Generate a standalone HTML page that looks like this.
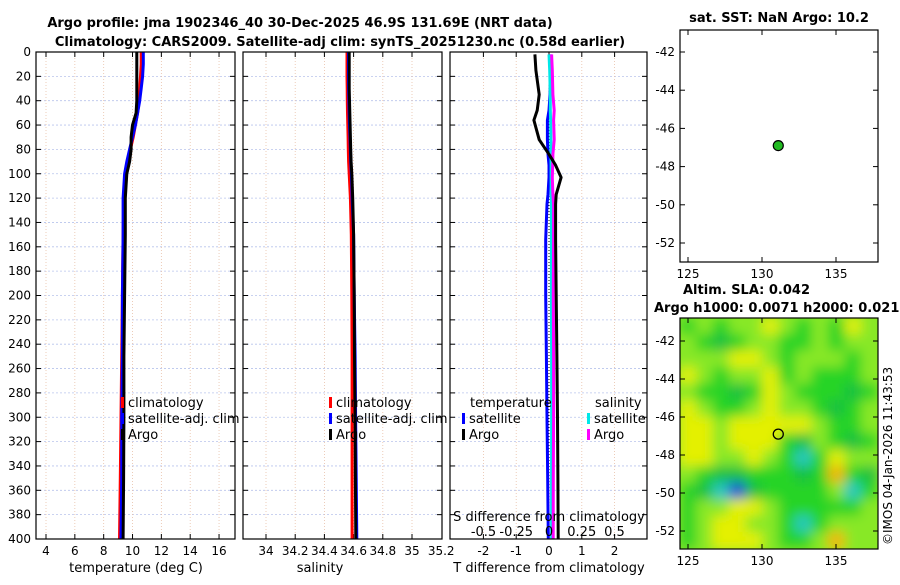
<!DOCTYPE html>
<html><head><meta charset="utf-8">
<style>
body{margin:0;background:#fff;width:900px;height:580px;overflow:hidden}
svg{font-family:"DejaVu Sans","Liberation Sans",sans-serif}
</style></head><body>
<svg id="s" width="900" height="580" viewBox="0 0 900 580" xmlns="http://www.w3.org/2000/svg">
<text x="300" y="27" font-size="13" font-weight="bold" text-anchor="middle">Argo profile: jma 1902346_40 30-Dec-2025 46.9S 131.69E (NRT data)</text>
<text x="340" y="46" font-size="13" font-weight="bold" text-anchor="middle">Climatology: CARS2009. Satellite-adj clim: synTS_20251230.nc (0.58d earlier)</text>
<text x="779" y="22" font-size="13" font-weight="bold" text-anchor="middle">sat. SST: NaN Argo: 10.2</text>
<text x="683" y="294" font-size="13" font-weight="bold">Altim. SLA: 0.042</text>
<text x="654" y="312" font-size="13" font-weight="bold">Argo h1000: 0.0071 h2000: 0.021</text>
<text x="0" y="0" font-size="12" transform="translate(892,545) rotate(-90)">©IMOS 04-Jan-2026 11:43:53</text>
<g id="g"></g>
</svg>
<script>
// ---- data ----
const depths = [0,10,20,30,40,50,60,70,80,90,100,120,150,200,250,300,350,400];
const tempClim = [10.6,10.6,10.55,10.5,10.45,10.35,10.2,10.05,9.85,9.65,9.5,9.4,9.35,9.3,9.25,9.2,9.15,9.1];
const tempSat  = [10.75,10.75,10.7,10.6,10.5,10.35,10.2,10.0,9.8,9.6,9.45,9.35,9.35,9.3,9.3,9.25,9.25,9.2];
const tempArgo = [10.3,10.3,10.3,10.3,10.3,10.25,10.0,9.9,9.9,9.8,9.6,9.5,9.5,9.45,9.4,9.4,9.38,9.35];
const salClim = [34.555,34.555,34.555,34.556,34.557,34.558,34.56,34.562,34.564,34.566,34.57,34.578,34.584,34.588,34.59,34.59,34.59,34.59];
const salSat  = [34.565,34.565,34.565,34.566,34.568,34.57,34.572,34.575,34.578,34.58,34.585,34.59,34.6,34.604,34.61,34.614,34.618,34.622];
const salArgo = [34.57,34.57,34.57,34.57,34.572,34.574,34.576,34.578,34.58,34.583,34.588,34.594,34.6,34.604,34.606,34.61,34.612,34.615];
const dT_depths = [2,15,35,48,56,72,84,93,103,117,125,154,200,250,300,350,400];
const dT_argo = [-0.43,-0.4,-0.3,-0.36,-0.46,-0.3,0.0,0.2,0.37,0.22,0.2,0.2,0.22,0.24,0.26,0.27,0.28];
const dT_sat = [0.05,0.05,0.03,0.0,-0.05,-0.05,-0.03,0.0,0.0,-0.03,-0.06,-0.1,-0.1,-0.08,-0.06,-0.04,-0.02];
const dS_sat = [0.0,0.005,0.01,0.01,0.012,0.014,0.015,0.016,0.016,0.017,0.018,0.018,0.018,0.02,0.02,0.02,0.02];
const dS_argo = [0.02,0.025,0.03,0.04,0.035,0.04,0.03,0.028,0.025,0.03,0.035,0.035,0.033,0.035,0.035,0.033,0.032];
const tempTicks = [4,6,8,10,12,14,16];
const salTicks = [34,34.2,34.4,34.6,34.8,35,35.2];
const dTticks = [-2,-1,0,1,2];
const dSticks = [-0.5,-0.25,0,0.25,0.5];
const depthTicks = [0,20,40,60,80,100,120,140,160,180,200,220,240,260,280,300,320,340,360,380,400];
const latTicks = [-42,-44,-46,-48,-50,-52];
const lonTicks = [125,130,135];
const argoLon = 131.1, argoLat = -46.9;
const slaGrid = [
[3,4,3,4,4,5,4,3,4,3,5,4],
[4,3,2,3,4,4,3,3,4,3,4,4],
[4,4,4,5,5,4,3,4,4,4,3,4],
[5,4,3,4,4,5,3,4,3,3,3,4],
[4,3,3,2,3,5,4,3,3,3,2,3],
[5,4,3,3,4,5,4,4,3,2,3,4],
[5,5,4,5,5,5,5,5,4,3,3,4],
[5,5,4,5,5,5,3,2,4,3,2,3],
[5,5,4,4,5,4,3,1,3,5,4,4],
[4,3,2,2,3,3,3,2,3,6,3,2],
[3,2,1,0,2,3,3,3,3,4,1,3],
[3,4,4,5,5,4,3,3,3,3,3,4],
[3,4,5,5,4,4,3,1,3,4,4,4],
[3,4,5,5,5,4,3,3,4,6,4,4]];
const slaColors = ['#1848d8','#28c8c0','#18c040','#28d428','#88e828','#e4f000','#f4b400'];

// ---- helpers ----
const NS='http://www.w3.org/2000/svg';
const G=document.getElementById('g');
function mk(tag,attrs,parent){const e=document.createElementNS(NS,tag);for(const k in attrs)e.setAttribute(k,attrs[k]);(parent||G).appendChild(e);return e;}
const PT=52, PB=539;
const yD = d => PT + d*(PB-PT)/400;
function panel(name,x0,x1,xs,ticks,fmt,yLabels){
  mk('rect',{x:x0,y:PT,width:x1-x0,height:PB-PT,fill:'#fff'});
  depthTicks.forEach(d=>{
    const l=mk('line',{x1:x0,x2:x1,y1:yD(d),y2:yD(d),stroke:'#b8c4ec','stroke-width':0.8,'stroke-dasharray':'2,2'});
    
    
    mk('line',{x1:x0,x2:x0+5,y1:yD(d),y2:yD(d),stroke:'#000'});
    mk('line',{x1:x1,x2:x1-5,y1:yD(d),y2:yD(d),stroke:'#000'});
    if(yLabels){const t=mk('text',{x:x0-5,y:yD(d)+4,'font-size':12,'text-anchor':'end'});t.textContent=d;
      }
  });
  ticks.forEach(v=>{
    const x=xs(v);
    if(x>x0+1&&x<x1-1){
      const l=mk('line',{x1:x,x2:x,y1:PT,y2:PB,stroke:'#e8c0a8','stroke-width':0.8,'stroke-dasharray':'1,2'});
      
      mk('line',{x1:x,x2:x,y1:PB,y2:PB-5,stroke:'#000'});mk('line',{x1:x,x2:x,y1:PT,y2:PT+5,stroke:'#000'});}
    const t=mk('text',{x:x,y:555,'font-size':12,'text-anchor':'middle'});t.textContent=fmt(v);
    
  });
}
function frame(name,x0,x1){const r=mk('rect',{x:x0,y:PT,width:x1-x0,height:PB-PT,fill:'none',stroke:'#000','stroke-width':1.2});
  }
function line(name,xs,vals,ds,color,w){
  const p=vals.map((v,i)=>(i?'L':'M')+xs(v).toFixed(1)+','+yD(ds[i]).toFixed(1)).join('');
  const e=mk('path',{d:p,fill:'none',stroke:color,'stroke-width':w,'stroke-linejoin':'round'});
  
}
function leg(name,x,y,color,label){
  const r=mk('rect',{x:x,y:y-10,width:3,height:11,fill:color});
  const t=mk('text',{x:x+7,y:y,'font-size':13});t.textContent=label;
  
}
function label(name,x,y,s,anchor){const t=mk('text',{x:x,y:y,'font-size':13,'text-anchor':anchor||'middle'});t.textContent=s;
  }

// panel 1: temperature
const xT = v => 46 + (v-4)*14.42;
panel('temp',36,235,xT,tempTicks,v=>v,true);
line('temp-climatology-line',xT,tempClim,depths,'#ff0000',3);
line('temp-satellite-line',xT,tempSat,depths,'#0000ff',3);
line('temp-argo-line',xT,tempArgo,depths,'#000',3);
frame('temperature-panel',36,235);
leg('legend-climatology',121,407,'#ff0000','climatology');
leg('legend-satellite-adj',121,423,'#0000ff','satellite-adj. clim');
leg('legend-argo',121,439,'#000','Argo');
label('temperature-axis-title',136,572,'temperature (deg C)');

// panel 2: salinity
const xS = v => 266 + (v-34)*146;
panel('sal',243,442,xS,salTicks,v=>v,false);
line('sal-climatology-line',xS,salClim,depths,'#ff0000',3);
line('sal-satellite-line',xS,salSat,depths,'#0000ff',3);
line('sal-argo-line',xS,salArgo,depths,'#000',3);
frame('salinity-panel',243,442);
leg('legend-sal-climatology',329,407,'#ff0000','climatology');
leg('legend-sal-satellite',329,423,'#0000ff','satellite-adj. clim');
leg('legend-sal-argo',329,439,'#000','Argo');
label('salinity-axis-title',320,572,'salinity');

// panel 3: differences
const xDT = v => 549 + v*32.8;
const xDS = v => 549 + v*131;
panel('diff',450,647,xDT,dTticks,v=>v,false);
const zl=mk('line',{x1:549,x2:549,y1:PT,y2:PB,stroke:'#000','stroke-width':1,'stroke-dasharray':'1,2'});

line('dT-satellite-line',xDT,dT_sat,dT_depths,'#0000ff',3);
line('dS-satellite-line',xDS,dS_sat,dT_depths,'#00e8e8',3);
line('dS-argo-line',xDS,dS_argo,dT_depths,'#ff00ff',3);
line('dT-argo-line',xDT,dT_argo,dT_depths,'#000',3);
frame('difference-panel',450,647);
label('legend-temperature-header',470,407,'temperature','start');
leg('legend-dT-satellite',462,423,'#0000ff','satellite');
leg('legend-dT-argo',462,439,'#000','Argo');
label('legend-salinity-header',595,407,'salinity','start');
leg('legend-dS-satellite',587,423,'#00e8e8','satellite');
leg('legend-dS-argo',587,439,'#ff00ff','Argo');
label('s-diff-axis-title',549,521,'S difference from climatology');
dSticks.forEach(v=>{const t=mk('text',{x:xDS(v),y:536,'font-size':13,'text-anchor':'middle'});t.textContent=v;
  });
label('t-diff-axis-title',549,572,'T difference from climatology');

// maps
const MX0=680,MX1=878;
const lonX = v => 688 + (v-125)*14.8;
function mapAxes(name,y0,y1,latY){
  lonTicks.forEach(v=>{const x=lonX(v);
    mk('line',{x1:x,x2:x,y1:y1,y2:y1-5,stroke:'#000'});mk('line',{x1:x,x2:x,y1:y0,y2:y0+5,stroke:'#000'});
    const t=mk('text',{x:x,y:y1+16,'font-size':12,'text-anchor':'middle'});t.textContent=v;
    });
  latTicks.forEach(v=>{const y=latY(v);
    mk('line',{x1:MX0,x2:MX0+5,y1:y,y2:y,stroke:'#000'});mk('line',{x1:MX1,x2:MX1-5,y1:y,y2:y,stroke:'#000'});
    const t=mk('text',{x:MX0-5,y:y+4,'font-size':12,'text-anchor':'end'});t.textContent=v;
    });
  const r=mk('rect',{x:MX0,y:y0,width:MX1-MX0,height:y1-y0,fill:'none',stroke:'#000','stroke-width':1.2});
  
}
// SST map
const latY1 = v => 52 + (-42-v)*19.1;
mk('rect',{x:MX0,y:30,width:MX1-MX0,height:232,fill:'#fff'});
mapAxes('sst-map',30,262,latY1);
const dot=mk('circle',{cx:lonX(argoLon),cy:latY1(argoLat),r:5,fill:'#22bb22',stroke:'#000','stroke-width':1.2});


// SLA map
const latY2 = v => 341 + (-42-v)*19;
const cw=(MX1-MX0)/slaGrid[0].length, ch=(549-318)/slaGrid.length;
const defs=mk('defs',{});
const f=mk('filter',{id:'bl',x:'-10%',y:'-10%',width:'120%',height:'120%'},defs);
mk('feGaussianBlur',{stdDeviation:6},f);
const cp=mk('clipPath',{id:'mc'},defs);mk('rect',{x:MX0,y:318,width:MX1-MX0,height:231},cp);
const hg=mk('g',{'clip-path':'url(#mc)'});
const hb=mk('g',{filter:'url(#bl)'},hg);
mk('rect',{x:MX0-20,y:298,width:MX1-MX0+40,height:271,fill:slaColors[4]},hb);
slaGrid.forEach((row,i)=>row.forEach((v,j)=>{
  const c=mk('rect',{x:MX0+j*cw-0.5,y:318+i*ch-0.5,width:cw+1,height:ch+1,fill:slaColors[v]},hb);
  
  
}));
mapAxes('sla-map',318,549,latY2);
const ring=mk('circle',{cx:lonX(argoLon),cy:latY2(argoLat),r:5,fill:'none',stroke:'#000','stroke-width':1.3});

</script>
</body></html>
